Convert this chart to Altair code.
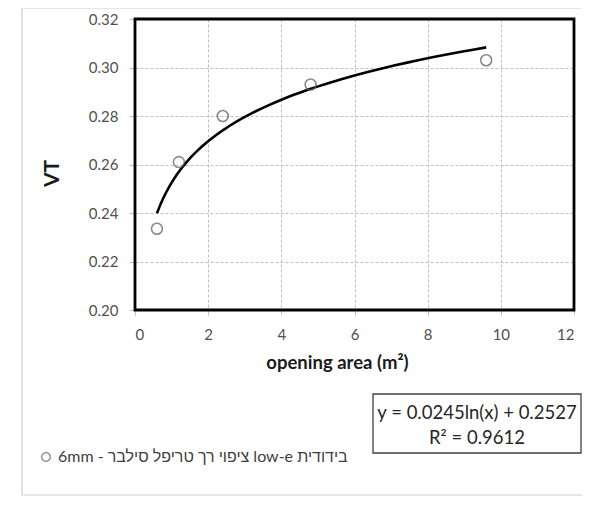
import altair as alt
import pandas as pd

# ---- data ----
area = [0.6, 1.2, 2.4, 4.8, 9.6]
vt = [0.2335, 0.261, 0.280, 0.293, 0.303]
series_name = "\u202bבידודית low-e ציפוי רך טריפל סילבר - 6mm\u202c"
x_ticks = [0, 2, 4, 6, 8, 10, 12]
y_ticks = [0.20, 0.22, 0.24, 0.26, 0.28, 0.30, 0.32]
equation_lines = ["y = 0.0245ln(x) + 0.2527", "R² = 0.9612"]

df = pd.DataFrame({"area": area, "vt": vt, "series": [series_name] * len(area)})
one = pd.DataFrame({"a": [0]})

FONT = "Lato, 'Liberation Sans', 'DejaVu Sans', sans-serif"
GRID = "#bfbfbf"
W, H = 439, 291

x_enc = alt.X(
    "area:Q",
    scale=alt.Scale(domain=[0, 12], nice=False),
    axis=alt.Axis(
        values=x_ticks, title="opening area (m²)", format="d",
        grid=True, gridColor=GRID, gridDash=[3, 2], gridWidth=1,
        domain=False, ticks=True, tickColor=GRID, tickSize=5,
        labelFont=FONT, labelFontSize=15, labelColor="#505050", labelPadding=12,
        titleFont=FONT, titleFontSize=18.5, titleFontWeight="bold", titleColor="#1a1a1a",
        titleX=202, titleY=52, titleBaseline="middle", titleAlign="center",
    ),
)
y_enc = alt.Y(
    "vt:Q",
    scale=alt.Scale(domain=[0.20, 0.32], nice=False, zero=False),
    axis=alt.Axis(
        values=y_ticks, title="VT", format=".2f",
        grid=True, gridColor=GRID, gridDash=[3, 2], gridWidth=1,
        domain=False, ticks=True, tickColor=GRID, tickSize=6,
        labelFont=FONT, labelFontSize=15, labelColor="#505050", labelPadding=11,
        titleFont=FONT, titleFontSize=21, titleFontWeight="bold", titleColor="#1a1a1a",
        titleX=-83, titleY=154, titleBaseline="middle", titleAlign="center",
    ),
)

frame = alt.Chart(one).mark_rect(fillOpacity=0, stroke="#cfcfcf", strokeWidth=1.2).encode(
    x=alt.value(-113), x2=alt.value(520), y=alt.value(-11), y2=alt.value(476)
)

border = alt.Chart(one).mark_rect(fillOpacity=0, stroke="black", strokeWidth=2.8).encode(
    x=alt.value(0), x2=alt.value(W), y=alt.value(0), y2=alt.value(H)
)

points = alt.Chart(df).mark_point(
    shape="circle", filled=False, size=120, strokeWidth=1.6
).encode(
    x=x_enc,
    y=y_enc,
    color=alt.Color(
        "series:N",
        scale=alt.Scale(range=["#595959"]),
        legend=alt.Legend(
            orient="none", legendX=-97, legendY=430, title=None,
            labelFont=FONT, labelFontSize=16, labelColor="#404040",
            labelLimit=500, symbolSize=75, symbolStrokeWidth=1.3,
            symbolType="circle", labelOffset=4,
        ),
    ),
)

trend = alt.Chart(df).transform_regression(
    "area", "vt", method="log"
).mark_line(color="black", strokeWidth=2.6).encode(x="area:Q", y="vt:Q")

box = alt.Chart(one).mark_rect(fill="white", stroke="#404040", strokeWidth=1.3).encode(
    x=alt.value(238), x2=alt.value(446), y=alt.value(375), y2=alt.value(434)
)
eq1 = alt.Chart(one).mark_text(
    text=equation_lines[0], font=FONT, fontSize=18.5, color="#262626",
    align="center", baseline="middle"
).encode(x=alt.value(342), y=alt.value(394))
eq2 = alt.Chart(one).mark_text(
    text=equation_lines[1], font=FONT, fontSize=18.5, color="#262626",
    align="center", baseline="middle"
).encode(x=alt.value(342), y=alt.value(419))

chart = alt.layer(frame, trend, points, border, box, eq1, eq2).properties(
    width=W, height=H,
    padding={"left": 127, "top": 11, "right": 8, "bottom": 186},
    autosize=alt.AutoSizeParams(type="none"),
    background="white",
).configure_view(stroke=None)

chart.save("out.html", embed_options={"renderer": "svg", "actions": False})
